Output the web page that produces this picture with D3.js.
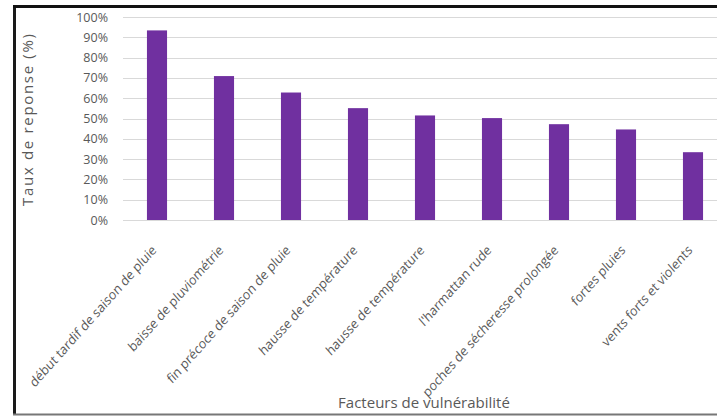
<!DOCTYPE html>
<html>
<head>
<meta charset="utf-8">
<script src="https://cdn.jsdelivr.net/npm/d3@7/dist/d3.min.js"></script>
<style>
html,body{margin:0;padding:0;background:#fff;}
svg{display:block;}
text{font-family:"Open Sans",Lato,sans-serif;}
</style>
</head>
<body>
<script>
const categories = [
  "début tardif de saison de pluie",
  "baisse de pluviométrie",
  "fin précoce de saison de pluie",
  "hausse de température",
  "hausse de température",
  "l'harmattan rude",
  "poches de sécheresse prolongée",
  "fortes pluies",
  "vents forts et violents"
];
const values = [93.4, 70.9, 62.8, 55.1, 51.5, 50.2, 47.2, 44.6, 33.4];
const yTicks = [0,10,20,30,40,50,60,70,80,90,100];
const yTitle = "Taux de reponse (%)";
const xTitle = "Facteurs de vulnérabilité";

const W = 717, H = 416;
const svg = d3.select("body").append("svg").attr("width", W).attr("height", H);

// frame
svg.append("line").attr("x1",14.5).attr("x2",14.5).attr("y1",5).attr("y2",415).attr("stroke","#1a1a1a").attr("stroke-width",3);
svg.append("line").attr("x1",13).attr("x2",W).attr("y1",6.5).attr("y2",6.5).attr("stroke","#111").attr("stroke-width",3);
svg.append("line").attr("x1",13).attr("x2",W).attr("y1",414.5).attr("y2",414.5).attr("stroke","#777").attr("stroke-width",2);

const x = d3.scaleBand().domain(d3.range(categories.length)).range([123.5, 726.5]).paddingInner(0.7).paddingOuter(0.35);
const y = d3.scaleLinear().domain([0,100]).range([220, 17]);

// gridlines
svg.append("g").selectAll("line").data(yTicks).join("line")
  .attr("x1",123).attr("x2",W)
  .attr("y1",d=>Math.round(y(d))+0.5).attr("y2",d=>Math.round(y(d))+0.5)
  .attr("stroke","#d9d9d9").attr("stroke-width",1);

// y axis labels
const yAxis = d3.axisLeft(y).tickValues(yTicks).tickFormat(d=>d+"%").tickSize(0).tickPadding(0);
const gy = svg.append("g").attr("transform","translate(108,0)").call(yAxis);
gy.select(".domain").remove();
gy.selectAll("text").attr("font-size",12.5).attr("fill","#595959").attr("font-family","'Open Sans',sans-serif");

// bars
svg.append("g").selectAll("rect").data(values).join("rect")
  .attr("x",(d,i)=>x(i)).attr("width",x.bandwidth())
  .attr("y",d=>y(d)).attr("height",d=>y(0)-y(d))
  .attr("fill","#7030a0");

// x labels
svg.append("g").selectAll("text").data(categories).join("text")
  .attr("transform",(d,i)=>`translate(${x(i)+x.bandwidth()/2},${251}) scale(1,1.12) rotate(-45)`)
  .attr("text-anchor","end")
  .attr("font-size",12.2)
  .attr("fill","#595959")
  .text(d=>d);

// titles
svg.append("text").attr("transform","translate(33,120) rotate(-90)")
  .attr("text-anchor","middle").attr("font-size",15).attr("fill","#595959")
  .attr("textLength",172).attr("lengthAdjust","spacing").text(yTitle);
svg.append("text").attr("x",424).attr("y",408)
  .attr("text-anchor","middle").attr("font-size",15).attr("fill","#595959").text(xTitle);
</script>
</body>
</html>
